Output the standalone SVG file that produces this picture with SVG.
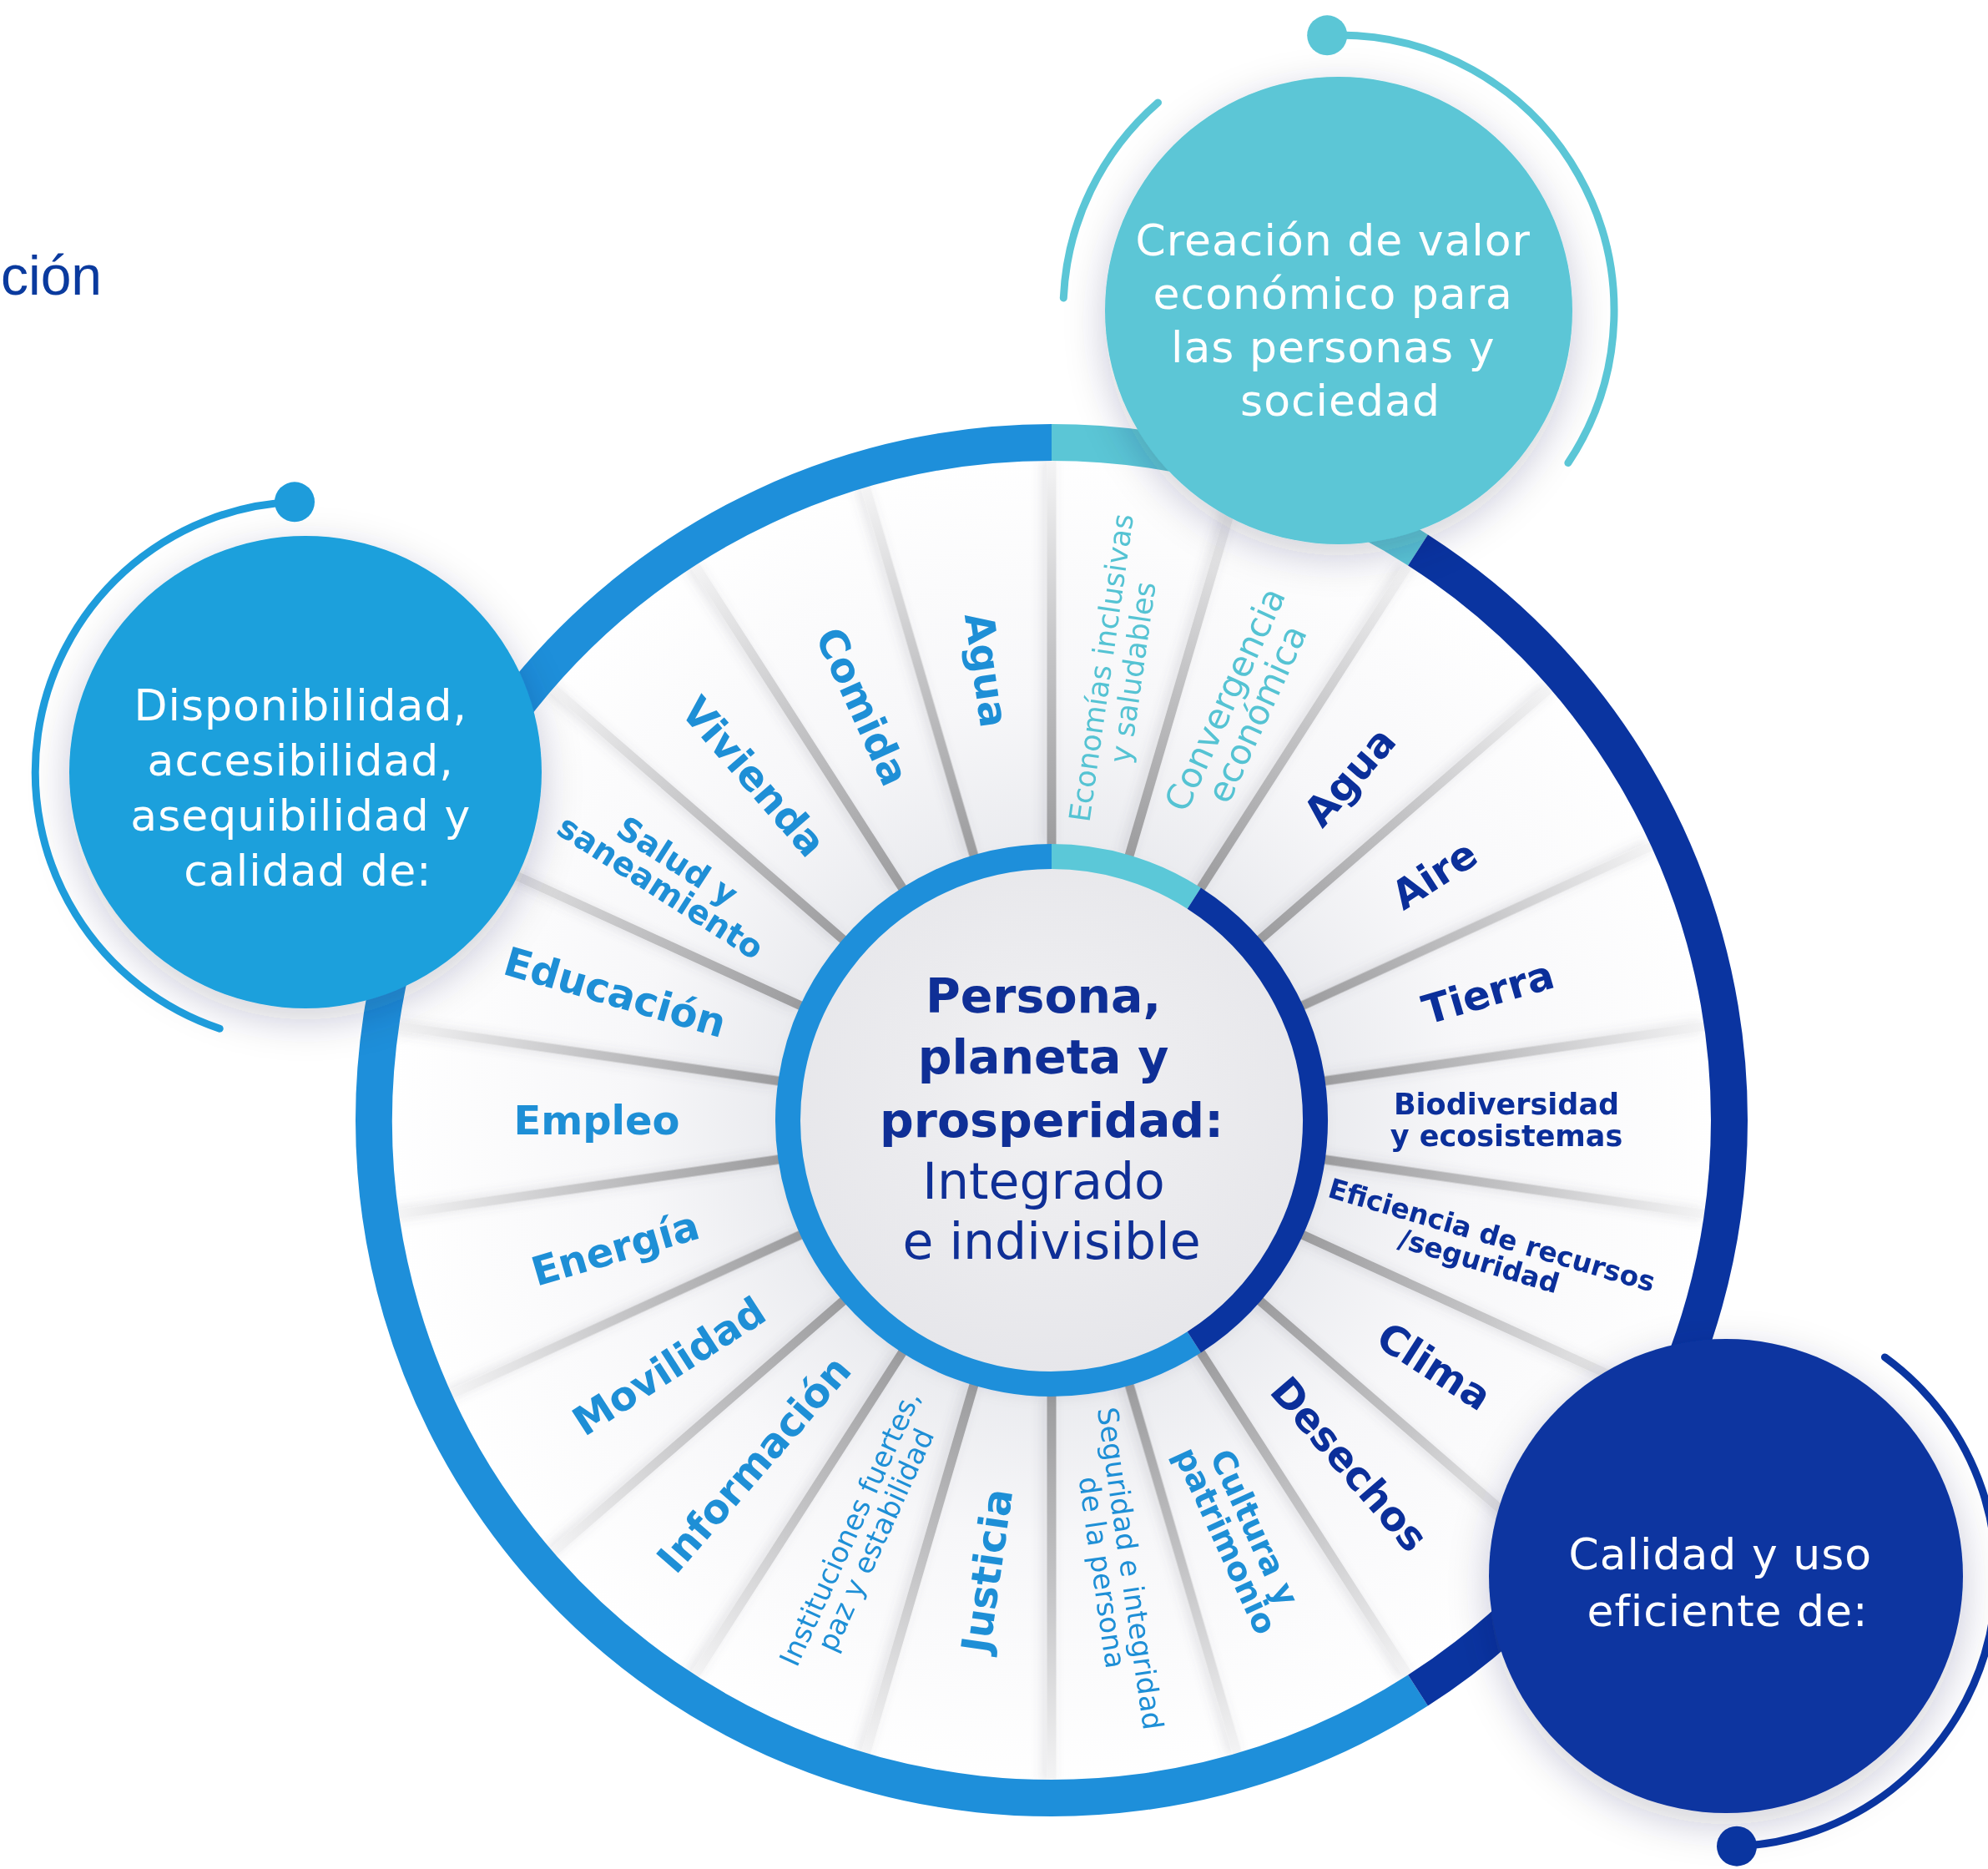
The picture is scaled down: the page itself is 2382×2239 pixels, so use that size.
<svg xmlns="http://www.w3.org/2000/svg" width="2382" height="2239" viewBox="0 0 2382 2239">
  <defs>
    <style>
      .lbl { font-family: "DejaVu Sans", "Liberation Sans", sans-serif; text-anchor: middle; }
      .b { font-weight: bold; font-size: 48px; }
      .blue { fill: #1E8FD6; }
      .navy { fill: #0B2F9A; }
      .teal { fill: #55C3D3; }
      .sat { font-family: "DejaVu Sans", "Liberation Sans", sans-serif; font-size: 52px; fill: #FFFFFF; text-anchor: middle; letter-spacing: 1px; }
      .orbit { fill: none; stroke-width: 9; stroke-linecap: round; }
      .ring { fill: none; }
      .ctr { font-family: "DejaVu Sans", "Liberation Sans", sans-serif; fill: #0F2F96; text-anchor: middle; }
    </style>
    <radialGradient id="diskG" cx="1260" cy="1342" r="812" gradientUnits="userSpaceOnUse">
      <stop offset="0.38" stop-color="#E9EAEE"/>
      <stop offset="0.62" stop-color="#F7F7F9"/>
      <stop offset="1" stop-color="#FFFFFF"/>
    </radialGradient>
    <radialGradient id="innerG" cx="0.5" cy="0.45" r="0.55">
      <stop offset="0" stop-color="#F1F1F3"/>
      <stop offset="1" stop-color="#E6E6EA"/>
    </radialGradient>
    <linearGradient id="spokeG" x1="0" y1="0" x2="0" y2="1">
      <stop offset="0" stop-color="#F4F4F5"/>
      <stop offset="0.5" stop-color="#C4C4C6"/>
      <stop offset="1" stop-color="#9C9C9E"/>
    </linearGradient>
    <filter id="satShadow" x="-40%" y="-40%" width="180%" height="180%">
      <feDropShadow dx="0" dy="14" stdDeviation="24" flood-color="#1A2A50" flood-opacity="0.22"/>
    </filter>
    <filter id="spokeShadow" x="-300%" y="-10%" width="700%" height="120%">
      <feDropShadow dx="-5" dy="0" stdDeviation="7" flood-color="#5A6070" flood-opacity="0.18"/>
    </filter>
    <filter id="innerShadow" x="-20%" y="-20%" width="140%" height="140%">
      <feDropShadow dx="0" dy="6" stdDeviation="12" flood-color="#1A2A50" flood-opacity="0.18"/>
    </filter>
    <rect id="spoke" x="-5.5" y="-792" width="11" height="462"/>
  </defs>

  <rect width="2382" height="2239" fill="#FFFFFF"/>

  <!-- title fragment -->
  <text x="1" y="353" font-family="Liberation Sans, Arial, sans-serif" font-size="66" fill="#0A3A9E">ción</text>

  <!-- wheel base -->
  <g id="wheel">
    <circle cx="1260" cy="1342" r="812" fill="url(#diskG)"/>
  </g>

  <!-- spokes (connectors) -->
  <g id="spokes" fill="url(#spokeG)" filter="url(#spokeShadow)">
    <use href="#spoke" transform="translate(1260 1342) rotate(0)"/>
    <use href="#spoke" transform="translate(1260 1342) rotate(16.3636)"/>
    <use href="#spoke" transform="translate(1260 1342) rotate(32.7273)"/>
    <use href="#spoke" transform="translate(1260 1342) rotate(49.0909)"/>
    <use href="#spoke" transform="translate(1260 1342) rotate(65.4545)"/>
    <use href="#spoke" transform="translate(1260 1342) rotate(81.8182)"/>
    <use href="#spoke" transform="translate(1260 1342) rotate(98.1818)"/>
    <use href="#spoke" transform="translate(1260 1342) rotate(114.5455)"/>
    <use href="#spoke" transform="translate(1260 1342) rotate(130.9091)"/>
    <use href="#spoke" transform="translate(1260 1342) rotate(147.2727)"/>
    <use href="#spoke" transform="translate(1260 1342) rotate(163.6364)"/>
    <use href="#spoke" transform="translate(1260 1342) rotate(180)"/>
    <use href="#spoke" transform="translate(1260 1342) rotate(196.3636)"/>
    <use href="#spoke" transform="translate(1260 1342) rotate(212.7273)"/>
    <use href="#spoke" transform="translate(1260 1342) rotate(229.0909)"/>
    <use href="#spoke" transform="translate(1260 1342) rotate(245.4545)"/>
    <use href="#spoke" transform="translate(1260 1342) rotate(261.8182)"/>
    <use href="#spoke" transform="translate(1260 1342) rotate(278.1818)"/>
    <use href="#spoke" transform="translate(1260 1342) rotate(294.5455)"/>
    <use href="#spoke" transform="translate(1260 1342) rotate(310.9091)"/>
    <use href="#spoke" transform="translate(1260 1342) rotate(327.2727)"/>
    <use href="#spoke" transform="translate(1260 1342) rotate(343.6364)"/>
  </g>

  <!-- outer ring -->
  <g id="outer-ring" class="ring" stroke-width="44">
    <path d="M 1699.0 2025.1 A 812 812 0 1 1 1260 530" stroke="#1E8FDA"/>
    <path d="M 1260 530 A 812 812 0 0 1 1699.0 658.9" stroke="#5BC6D6"/>
    <path d="M 1699.0 658.9 A 812 812 0 0 1 1699.0 2025.1" stroke="#0A34A0"/>
  </g>

  <!-- center node -->
  <g id="center">
    <circle cx="1260" cy="1342" r="316" fill="url(#innerG)" filter="url(#innerShadow)"/>
    <g class="ring" stroke-width="30">
      <path d="M 1430.8 1607.9 A 316 316 0 1 1 1260 1026" stroke="#1E8FDA"/>
      <path d="M 1260 1026 A 316 316 0 0 1 1430.8 1076.1" stroke="#5BC8D8"/>
      <path d="M 1430.8 1076.1 A 316 316 0 0 1 1430.8 1607.9" stroke="#0A34A0"/>
    </g>
    <text class="ctr" font-size="57" font-weight="bold">
      <tspan x="1260" y="1213">Persona,</tspan>
      <tspan x="1260" y="1286">planeta y</tspan>
      <tspan x="1260" y="1362">prosperidad:</tspan>
    </text>
    <text class="ctr" font-size="60">
      <tspan x="1260" y="1436">Integrado</tspan>
      <tspan x="1260" y="1508">e indivisible</tspan>
    </text>
  </g>

  <!-- segment labels -->
  <g id="labels">
    <g id="seg-economias" transform="translate(1337.6 802.6) rotate(-81.82)">
      <text class="lbl teal" font-size="35"><tspan x="0" y="-6">Economías inclusivas</tspan><tspan x="0" y="32">y saludables</tspan></text>
    </g>
    <g id="seg-convergencia" transform="translate(1486.4 846.3) rotate(-65.45)">
      <text class="lbl teal" font-size="42"><tspan x="0" y="-6">Convergencia</tspan><tspan x="0" y="36">económica</tspan></text>
    </g>
    <g id="seg-agua-2" transform="translate(1616.9 930.2) rotate(-49.09)">
      <text class="lbl b navy" y="17">Agua</text>
    </g>
    <g id="seg-aire" transform="translate(1718.5 1047.4) rotate(-32.73)">
      <text class="lbl b navy" y="17">Aire</text>
    </g>
    <g id="seg-tierra" transform="translate(1782.9 1188.5) rotate(-16.36)">
      <text class="lbl b navy" y="17">Tierra</text>
    </g>
    <g id="seg-biodiversidad" transform="translate(1805 1342)">
      <text class="lbl navy" font-size="35" font-weight="bold"><tspan x="0" y="-7">Biodiversidad</tspan><tspan x="0" y="31">y ecosistemas</tspan></text>
    </g>
    <g id="seg-eficiencia" transform="translate(1782.9 1495.5) rotate(16.36)">
      <text class="lbl navy" font-size="33" font-weight="bold"><tspan x="0" y="-5">Eficiencia de recursos</tspan><tspan x="-6" y="29">/seguridad</tspan></text>
    </g>
    <g id="seg-clima" transform="translate(1718.5 1636.6) rotate(32.73)">
      <text class="lbl b navy" y="17">Clima</text>
    </g>
    <g id="seg-desechos" transform="translate(1616.9 1753.9) rotate(49.09)">
      <text class="lbl b navy" y="17">Desechos</text>
    </g>
    <g id="seg-cultura" transform="translate(1486.4 1837.7) rotate(65.45)">
      <text class="lbl blue" font-size="39" font-weight="bold"><tspan x="0" y="-5">Cultura y</tspan><tspan x="0" y="33">patrimonio</tspan></text>
    </g>
    <g id="seg-seguridad" transform="translate(1337.6 1881.4) rotate(81.82)">
      <text class="lbl blue" font-size="34"><tspan x="0" y="-5">Seguridad e integridad</tspan><tspan x="0" y="29">de la persona</tspan></text>
    </g>
    <g id="seg-justicia" transform="translate(1182.4 1881.4) rotate(-81.82)">
      <text class="lbl b blue" y="17">Justicia</text>
    </g>
    <g id="seg-instituciones" transform="translate(1033.6 1837.7) rotate(-65.45)">
      <text class="lbl blue" font-size="34"><tspan x="0" y="-5">Instituciones fuertes,</tspan><tspan x="0" y="29">paz y estabilidad</tspan></text>
    </g>
    <g id="seg-informacion" transform="translate(903.1 1753.9) rotate(-49.09)">
      <text class="lbl b blue" y="17">Información</text>
    </g>
    <g id="seg-movilidad" transform="translate(801.5 1636.6) rotate(-32.73)">
      <text class="lbl b blue" y="17">Movilidad</text>
    </g>
    <g id="seg-energia" transform="translate(737.1 1495.5) rotate(-16.36)">
      <text class="lbl b blue" y="17">Energía</text>
    </g>
    <g id="seg-empleo" transform="translate(715 1342)">
      <text class="lbl b blue" y="17">Empleo</text>
    </g>
    <g id="seg-educacion" transform="translate(737.1 1188.5) rotate(16.36)">
      <text class="lbl b blue" y="17">Educación</text>
    </g>
    <g id="seg-salud" transform="translate(801.5 1047.4) rotate(32.73)">
      <text class="lbl blue" font-size="39" font-weight="bold"><tspan x="0" y="-5">Salud y</tspan><tspan x="0" y="32">saneamiento</tspan></text>
    </g>
    <g id="seg-vivienda" transform="translate(903.1 930.2) rotate(49.09)">
      <text class="lbl b blue" y="17">Vivienda</text>
    </g>
    <g id="seg-comida" transform="translate(1033.6 846.3) rotate(65.45)">
      <text class="lbl b blue" y="17">Comida</text>
    </g>
    <g id="seg-agua-1" transform="translate(1182.4 802.6) rotate(81.82)">
      <text class="lbl b blue" y="17">Agua</text>
    </g>
  </g>

  <!-- satellite: top teal -->
  <g id="sat-economico">
    <circle cx="1604" cy="372" r="280" fill="#5BC6D6" filter="url(#satShadow)"/>
    <text class="sat">
      <tspan x="1606" y="306">Creación de valor</tspan>
      <tspan x="1606" y="370">económico para</tspan>
      <tspan x="1606" y="434">las personas y</tspan>
      <tspan x="1606" y="498">sociedad</tspan>
    </text>
  </g>

  <!-- satellite: left blue -->
  <g id="sat-disponibilidad">
    <circle cx="366" cy="925" r="283" fill="#1EA0DC" filter="url(#satShadow)"/>
    <text class="sat">
      <tspan x="369" y="863">Disponibilidad,</tspan>
      <tspan x="369" y="929">accesibilidad,</tspan>
      <tspan x="369" y="995">asequibilidad y</tspan>
      <tspan x="369" y="1061">calidad de:</tspan>
    </text>
  </g>

  <!-- satellite: bottom-right navy -->
  <g id="sat-calidad">
    <circle cx="2068" cy="1888" r="284" fill="#0A35A0" filter="url(#satShadow)"/>
    <text class="sat">
      <tspan x="2070" y="1880">Calidad y uso</tspan>
      <tspan x="2070" y="1948">eficiente de:</tspan>
    </text>
  </g>

  <!-- orbits -->
  <g id="orbits">
    <path class="orbit" stroke="#5BC6D6" d="M 1590.2 42.3 A 330 330 0 0 1 1878.9 554.6"/>
    <path class="orbit" stroke="#5BC6D6" d="M 1274.3 357 A 330 330 0 0 1 1387.5 122.9"/>
    <circle cx="1590.2" cy="42.3" r="24" fill="#5BC6D6"/>
    <path class="orbit" stroke="#1E9CDB" d="M 263.2 1232.2 A 324 324 0 0 1 353 601.3"/>
    <circle cx="353" cy="601.3" r="24" fill="#1E9CDB"/>
    <path class="orbit" stroke="#0A35A0" d="M 2258.4 1625.9 A 324 324 0 0 1 2081 2211.7"/>
    <circle cx="2081" cy="2211.7" r="24" fill="#0A35A0"/>
  </g>
</svg>
